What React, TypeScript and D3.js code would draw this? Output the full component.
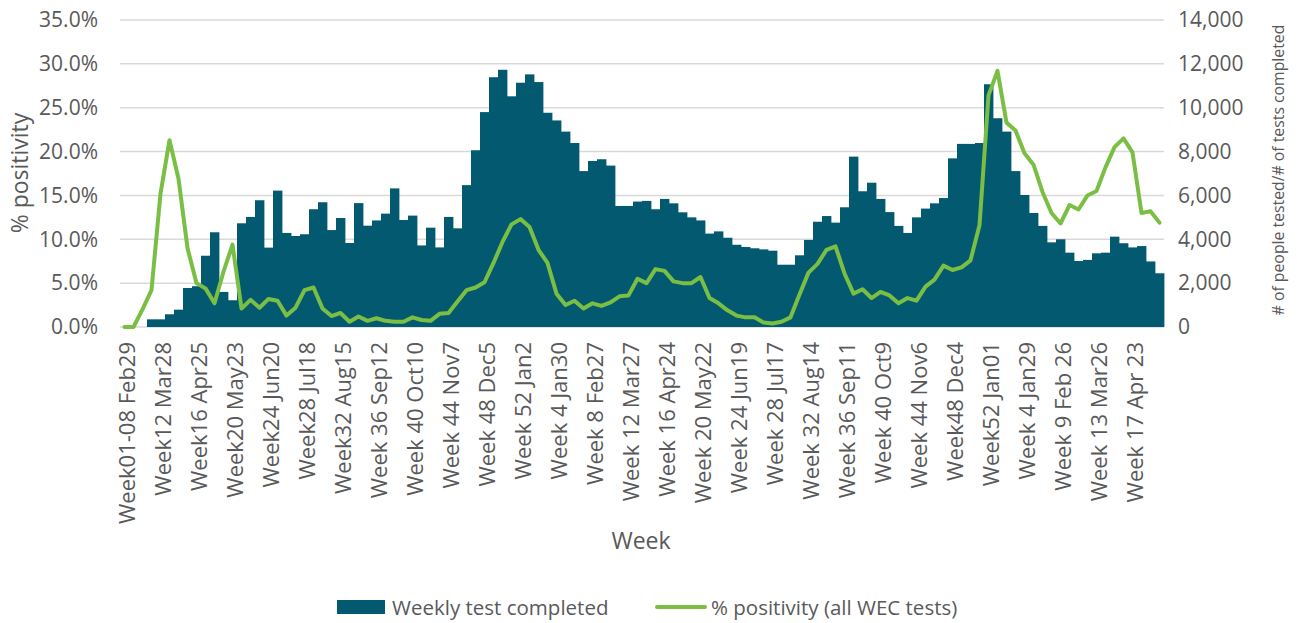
import * as React from "react";
import * as d3 from "d3";

// weekly tests completed (right axis)
const weeklyTests: number[] = [
  0, 0, 0, 350, 350, 580, 790, 1780, 1860, 3250,
  4320, 1600, 1220, 4730, 5020, 5780, 3620, 6220, 4290, 4150,
  4230, 5370, 5690, 4420, 4970, 3830, 5650, 4620, 4860, 5170,
  6320, 4880, 5080, 3720, 4530, 3630, 5020, 4500, 6470, 8060,
  9800, 11390, 11730, 10520, 11140, 11520, 11170, 9770, 9420, 8910,
  8390, 7110, 7570, 7650, 7360, 5520, 5520, 5720, 5750, 5370,
  5840, 5640, 5230, 5000, 4860, 4260, 4360, 4070, 3750, 3650,
  3590, 3540, 3480, 2840, 2840, 3270, 3970, 4800, 5060, 4760,
  5460, 7770, 6190, 6580, 5840, 5240, 4610, 4290, 5000, 5400,
  5640, 5880, 7690, 8350, 8350, 8390, 11070, 9520, 8910, 7110,
  6020, 5200, 4610, 3860, 4000, 3390, 3010, 3060, 3360, 3390,
  4120, 3820, 3630, 3690, 2990, 2450
];

// % positivity, all WEC tests (left axis)
const positivity: number[] = [
  0.0, 0.0, 2.0, 4.2, 15.2, 21.3, 16.9, 9.0, 5.0, 4.4,
  2.7, 6.3, 9.4, 2.1, 3.1, 2.2, 3.2, 3.0, 1.3, 2.2,
  4.2, 4.5, 2.1, 1.25, 1.6, 0.6, 1.2, 0.7, 1.0, 0.7,
  0.6, 0.6, 1.1, 0.8, 0.7, 1.5, 1.6, 2.9, 4.2, 4.5,
  5.1, 7.3, 9.7, 11.7, 12.3, 11.4, 8.8, 7.3, 3.8, 2.5,
  3.0, 2.1, 2.7, 2.4, 2.8, 3.5, 3.6, 5.5, 5.0, 6.6,
  6.4, 5.2, 5.0, 5.0, 5.7, 3.3, 2.7, 1.9, 1.3, 1.1,
  1.1, 0.5, 0.4, 0.6, 1.1, 3.7, 6.2, 7.2, 8.8, 9.2,
  6.1, 3.8, 4.3, 3.3, 4.0, 3.6, 2.7, 3.3, 3.0, 4.6,
  5.4, 7.0, 6.5, 6.8, 7.6, 11.6, 26.4, 29.2, 23.3, 22.4,
  19.8, 18.5, 15.4, 13.0, 11.8, 13.9, 13.4, 15.0, 15.5, 18.2,
  20.5, 21.5, 19.9, 13.0, 13.2, 11.9
];

// x tick labels, one every 4th week
const weekLabels: string[] = [
  "Week01-08 Feb29", "Week12 Mar28", "Week16 Apr25", "Week20 May23",
  "Week24 Jun20", "Week28 Jul18", "Week32 Aug15", "Week 36 Sep12",
  "Week 40 Oct10", "Week 44 Nov7", "Week 48 Dec5", "Week 52 Jan2",
  "Week 4 Jan30", "Week 8 Feb27", "Week 12 Mar27", "Week 16 Apr24",
  "Week 20 May22", "Week 24 Jun19", "Week 28 Jul17", "Week 32 Aug14",
  "Week 36 Sep11", "Week 40 Oct9", "Week 44 Nov6", "Week48 Dec4",
  "Week52 Jan01", "Week 4 Jan29", "Week 9 Feb 26", "Week 13 Mar26",
  "Week 17 Apr 23"
];

const leftTicks: number[] = [0, 5, 10, 15, 20, 25, 30, 35];
const rightTicks: number[] = [0, 2000, 4000, 6000, 8000, 10000, 12000, 14000];

const WIDTH = 1300;
const HEIGHT = 623;
const BAR_COLOR = "#035a70";
const LINE_COLOR = "#7abf43";
const TEXT_COLOR = "#595959";
const FONT = "'Open Sans', 'Noto Sans', sans-serif";

export default function App(): JSX.Element {
  const ref = React.useRef<SVGSVGElement>(null);

  React.useEffect(() => {
    const svg = d3.select(ref.current);
    svg.selectAll("*").remove();

    const plot = { left: 120, right: 1164, top: 20, bottom: 327 };
    const idx: number[] = d3.range(weeklyTests.length);

    const x = d3.scaleBand<number>().domain(idx).range([plot.left, plot.right]).padding(0);
    const yLeft = d3.scaleLinear().domain([0, 35]).range([plot.bottom, plot.top]);
    const yRight = d3.scaleLinear().domain([0, 14000]).range([plot.bottom, plot.top]);
    const bw = x.bandwidth();

    // gridlines
    svg.append("g")
      .selectAll("line")
      .data(leftTicks)
      .join("line")
      .attr("x1", plot.left)
      .attr("x2", plot.right)
      .attr("y1", (d) => yLeft(d))
      .attr("y2", (d) => yLeft(d))
      .attr("stroke", "#d9d9d9")
      .attr("stroke-width", 1.5);

    // bars
    svg.append("g")
      .selectAll("rect")
      .data(weeklyTests)
      .join("rect")
      .attr("x", (_d, i) => x(i) as number)
      .attr("width", bw + 0.4)
      .attr("y", (d) => yRight(d))
      .attr("height", (d) => plot.bottom - yRight(d))
      .attr("fill", BAR_COLOR);

    // positivity line
    const line = d3.line<number>()
      .x((_d, i) => (x(i) as number) + bw / 2)
      .y((d) => yLeft(d));

    svg.append("path")
      .datum(positivity)
      .attr("d", line)
      .attr("fill", "none")
      .attr("stroke", LINE_COLOR)
      .attr("stroke-width", 4)
      .attr("stroke-linejoin", "round")
      .attr("stroke-linecap", "round");

    // left axis
    const leftAxis = svg.append("g")
      .attr("transform", `translate(${plot.left},0)`)
      .call(d3.axisLeft(yLeft).tickValues(leftTicks).tickSize(0).tickPadding(22)
        .tickFormat((d) => `${(+d).toFixed(1)}%`));
    leftAxis.select(".domain").remove();
    leftAxis.selectAll("text")
      .attr("font-family", FONT)
      .attr("font-size", 21)
      .attr("fill", TEXT_COLOR);

    // right axis
    const rightAxis = svg.append("g")
      .attr("transform", `translate(${plot.right},0)`)
      .call(d3.axisRight(yRight).tickValues(rightTicks).tickSize(0).tickPadding(14)
        .tickFormat(d3.format(",")));
    rightAxis.select(".domain").remove();
    rightAxis.selectAll("text")
      .attr("font-family", FONT)
      .attr("font-size", 21)
      .attr("fill", TEXT_COLOR);

    // x tick labels (every 4th week)
    svg.append("g")
      .selectAll("text")
      .data(weekLabels)
      .join("text")
      .attr("transform", (_d, k) => `translate(${(x(k * 4) as number) + bw / 2 + 1},${plot.bottom + 15}) rotate(-90)`)
      .attr("text-anchor", "end")
      .attr("dominant-baseline", "central")
      .attr("font-family", FONT)
      .attr("font-size", 22)
      .attr("fill", TEXT_COLOR)
      .text((d) => d);

    // axis titles
    const title = (tx: number, ty: number, rot: number, size: number, txt: string) => {
      svg.append("text")
        .attr("transform", `translate(${tx},${ty}) rotate(${rot})`)
        .attr("text-anchor", "middle")
        .attr("dominant-baseline", "central")
        .attr("font-family", FONT)
        .attr("font-size", size)
        .attr("fill", TEXT_COLOR)
        .text(txt);
    };
    title(19, 173, -90, 23, "% positivity");
    title(1278, 170, -90, 15.8, "# of people tested/# of tests completed");
    title(641, 540, 0, 23, "Week");

    // legend
    const legend = svg.append("g").attr("transform", "translate(0,607)");
    legend.append("rect")
      .attr("x", 337).attr("y", -7).attr("width", 48).attr("height", 14)
      .attr("fill", BAR_COLOR);
    legend.append("text")
      .attr("x", 392).attr("y", 0)
      .attr("dominant-baseline", "central")
      .attr("font-family", FONT).attr("font-size", 20.5).attr("fill", TEXT_COLOR)
      .text("Weekly test completed");
    legend.append("line")
      .attr("x1", 657).attr("x2", 705).attr("y1", 0).attr("y2", 0)
      .attr("stroke", LINE_COLOR).attr("stroke-width", 4).attr("stroke-linecap", "round");
    legend.append("text")
      .attr("x", 711).attr("y", 0)
      .attr("dominant-baseline", "central")
      .attr("font-family", FONT).attr("font-size", 20.5).attr("fill", TEXT_COLOR)
      .text("% positivity (all WEC tests)");
  }, []);

  return (
    <svg ref={ref} width={WIDTH} height={HEIGHT}
      style={{ position: "absolute", left: 0, top: 0, background: "#fff" }} />
  );
}
